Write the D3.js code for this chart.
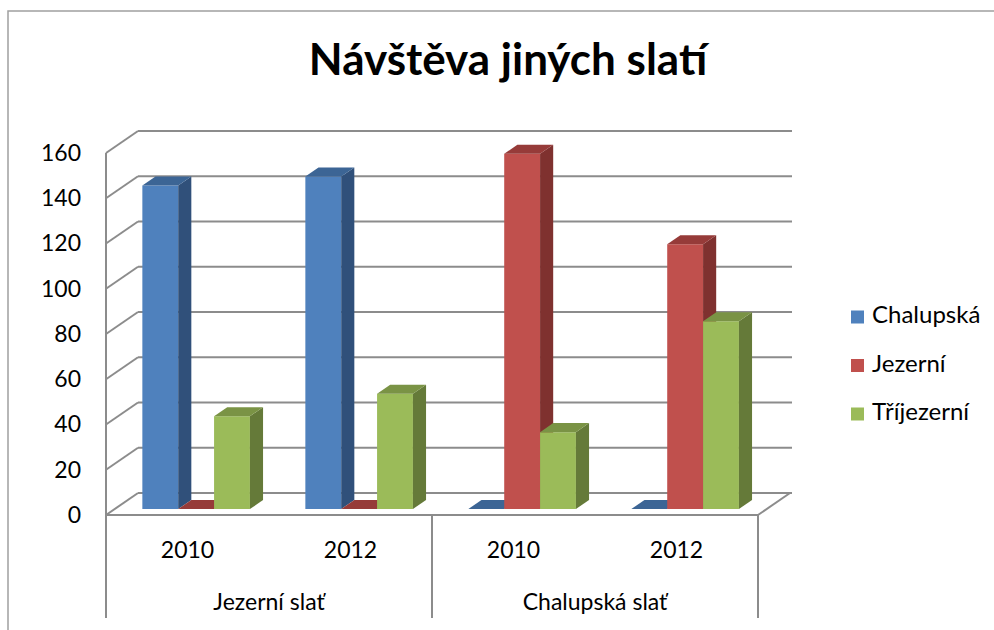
<!DOCTYPE html>
<html>
<head>
<meta charset="utf-8">
<script src="https://cdn.jsdelivr.net/npm/d3@7/dist/d3.min.js"></script>
<style>
  html, body { margin: 0; padding: 0; background: #fff; }
  text { font-family: Lato, "Open Sans", sans-serif; fill: #000; }
</style>
</head>
<body>
<svg id="chart" width="994" height="630"></svg>
<script>
// ---- data ----
const title = "Návštěva jiných slatí";
const groups = ["Jezerní slať", "Chalupská slať"];
const years = ["2010", "2012"];
const seriesNames = ["Chalupská", "Jezerní", "Tříjezerní"];
const chalupska = [143, 147, 0, 0];
const jezerni   = [0, 0, 157, 117];
const trijezerni = [41, 51, 34, 83];
const yTicks = [0, 20, 40, 60, 80, 100, 120, 140, 160];

// ---- styles ----
const faceColors = [
  { front: "#4F81BD", side: "#30507A", top: "#3C6595" },
  { front: "#C0504D", side: "#7F312F", top: "#963B39" },
  { front: "#9BBB59", side: "#657A39", top: "#7A9345" }
];
const gridColor = "#8C8C8C";

const svg = d3.select("#chart");

// frame
svg.append("rect").attr("x", 8).attr("y", 11).attr("width", 1000).attr("height", 640)
  .attr("fill", "none").attr("stroke", "#A0A0A0").attr("stroke-width", 1.5);

// geometry
const x0 = 106, x1 = 758, yBase = 515, yTop = 153;
const DX = 32, DY = -22;
const y = d3.scaleLinear().domain([0, 160]).range([yBase, yTop]);

const slots = [];
groups.forEach(g => years.forEach(yr => slots.push(g + "|" + yr)));
const xSlot = d3.scaleBand().domain(slots).range([x0, x1]).paddingInner(0).paddingOuter(0);
const xSeries = d3.scaleBand().domain(seriesNames).range([0, xSlot.bandwidth() * 0.66]);

// gridlines: back wall + left wall
const grid = svg.append("g").attr("stroke", gridColor).attr("stroke-width", 2).attr("fill", "none");
yTicks.forEach(v => {
  const yy = y(v);
  grid.append("line").attr("x1", x0 + DX).attr("x2", x1 + DX + 2).attr("y1", yy + DY).attr("y2", yy + DY);
  grid.append("line").attr("x1", x0).attr("x2", x0 + DX).attr("y1", yy).attr("y2", yy + DY);
});
// floor front edge and right edge
grid.append("line").attr("x1", x0).attr("x2", x1).attr("y1", yBase).attr("y2", yBase);
grid.append("line").attr("x1", x1).attr("x2", x1 + DX).attr("y1", yBase).attr("y2", yBase + DY);
// left axis
grid.append("line").attr("x1", x0).attr("x2", x0).attr("y1", yTop).attr("y2", 618);
// category separators
grid.append("line").attr("x1", xSlot(slots[2])).attr("x2", xSlot(slots[2])).attr("y1", yBase).attr("y2", 618);
grid.append("line").attr("x1", x1).attr("x2", x1).attr("y1", yBase).attr("y2", 618);

// y tick labels
svg.append("g").selectAll("text").data(yTicks).join("text")
  .attr("x", 81).attr("y", d => y(d) + 2)
  .attr("text-anchor", "end").attr("dominant-baseline", "middle")
  .style("font-size", "23px").text(d => d);

// bars
const f0 = 0.27, fd = 0.41;
const ox = f0 * DX, oy = f0 * DY;    // front plane offset
const bx = fd * DX, by = fd * DY;    // bar depth
const allSeries = [chalupska, jezerni, trijezerni];
const barsG = svg.append("g");
slots.forEach((s, i) => {
  const slotX = xSlot(s) + xSlot.bandwidth() * 0.17 + ox;
  seriesNames.forEach((name, k) => {
    const v = allSeries[k][i];
    const c = faceColors[k];
    const xl = slotX + xSeries(name), xr = xl + xSeries.bandwidth();
    const yb = y(0) + oy, yt = y(v) + oy;
    const g = barsG.append("g");
    if (v > 0) {
      g.append("path").attr("fill", c.front)
        .attr("d", `M${xl},${yb}L${xr},${yb}L${xr},${yt}L${xl},${yt}Z`);
      g.append("path").attr("fill", c.side)
        .attr("d", `M${xr},${yb}L${xr + bx},${yb + by}L${xr + bx},${yt + by}L${xr},${yt}Z`);
    }
    g.append("path").attr("fill", c.top)
      .attr("d", `M${xl},${yt}L${xr},${yt}L${xr + bx},${yt + by}L${xl + bx},${yt + by}Z`);
  });
});

// category labels
svg.append("g").selectAll("text").data(slots).join("text")
  .attr("x", d => xSlot(d) + xSlot.bandwidth() / 2).attr("y", 552)
  .attr("text-anchor", "middle").attr("dominant-baseline", "middle")
  .style("font-size", "23px").text(d => d.split("|")[1]);
svg.append("g").selectAll("text").data(groups).join("text")
  .attr("x", (d, i) => xSlot(slots[i * 2]) + xSlot.bandwidth())
  .attr("y", 604)
  .attr("text-anchor", "middle").attr("dominant-baseline", "middle")
  .style("font-size", "23px").text(d => d);

// title
svg.append("text").attr("x", 508).attr("y", 64)
  .attr("text-anchor", "middle").attr("dominant-baseline", "middle")
  .style("font-size", "44px").style("font-weight", "bold").text(title);

// legend
const leg = svg.append("g");
seriesNames.forEach((n, k) => {
  const ly = 317 + k * 48.5;
  leg.append("rect").attr("x", 851).attr("y", ly - 6.5).attr("width", 13).attr("height", 13)
    .attr("fill", faceColors[k].front);
  leg.append("text").attr("x", 872).attr("y", ly)
    .attr("dominant-baseline", "middle").style("font-size", "24px").text(n);
});
</script>
</body>
</html>
